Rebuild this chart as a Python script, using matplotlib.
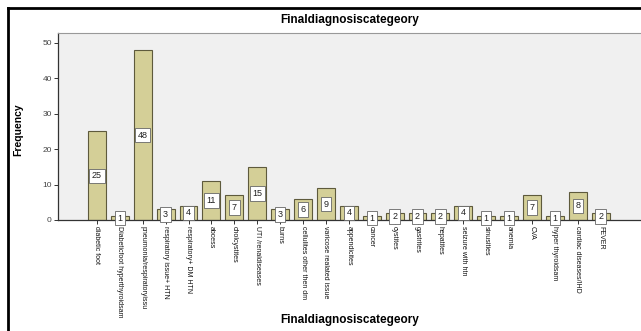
import matplotlib
matplotlib.use("Agg")
import matplotlib.pyplot as plt
from matplotlib.lines import Line2D

categories = [
    "diabetic foot", "Diabeticfoot hyperthyroidsam", "pneumonia/respiratoryissu",
    "respiratory issue+ HTN", "respiratory+ DM HTN", "abcess", "cholcystites",
    "UTI /renaldiseases", "burns", "cellulites other then dm",
    "varicose realated issue", "appendicites", "cancer", "cystites", "gastrites",
    "hepatites", "seizure with htn", "sinusities", "anemia", "CVA",
    "hyper thyroidsam", "cardiac diseases/IHD", "FEVER",
]
frequency = [25, 1, 48, 3, 4, 11, 7, 15, 3, 6, 9, 4, 1, 2, 2, 2, 4, 1, 1, 7, 1, 8, 2]
y_ticks = [0, 10, 20, 30, 40, 50]

plt.rcParams["font.family"] = ["Liberation Sans", "DejaVu Sans"]

W, H = 641, 331
fig = plt.figure(figsize=(W / 100, H / 100), dpi=100)
fig.patch.set_facecolor("white")

# plot area in pixel coordinates
left, right, top, bottom = 58, 641, 33, 220
ax = fig.add_axes([left / W, 1 - bottom / H, (right - left) / W, (bottom - top) / H])
ax.set_facecolor("#f0f0f0")

x = list(range(len(categories)))
ax.bar(x, frequency, width=0.78, color="#d4cf97", edgecolor="#5e5a3c", linewidth=0.8, zorder=2)

for xi, v in zip(x, frequency):
    ax.text(xi, v / 2, str(v), ha="center", va="center", fontsize=6.5, color="#222222", zorder=3,
            bbox=dict(boxstyle="square,pad=0.3", facecolor="white", edgecolor="#666666", linewidth=0.6))

ax.set_xlim(-1.7, 23.76)
ax.set_ylim(0, 52.8)
ax.set_yticks(y_ticks)
ax.set_yticklabels([str(t) for t in y_ticks], fontsize=6, color="#444444")
ax.set_xticks(x)
ax.set_xticklabels(categories, rotation=-90, fontsize=5, ha="center", va="top", color="#111111")
ax.tick_params(axis="both", length=3, width=0.7, color="#333333", pad=1.5)

ax.spines["top"].set_color("#999999")
ax.spines["top"].set_linewidth(0.8)
ax.spines["right"].set_visible(False)
for side in ("left", "bottom"):
    ax.spines[side].set_color("#333333")
    ax.spines[side].set_linewidth(0.9)

fig.text((left + right) / 2 / W, 1 - 20 / H, "Finaldiagnosiscategeory", ha="center", va="center",
         fontsize=8.5, fontweight="bold")
fig.text(18 / W, 1 - 130 / H, "Frequency", ha="center", va="center", rotation=90,
         fontsize=7.5, fontweight="bold")
fig.text(350 / W, 1 - 320 / H, "Finaldiagnosiscategeory", ha="center", va="center",
         fontsize=8.5, fontweight="bold")

# outer frame on the left and top edges
fig.add_artist(Line2D([8 / W, 8 / W], [0, 1 - 8 / H], color="black", linewidth=2, transform=fig.transFigure))
fig.add_artist(Line2D([8 / W, 1], [1 - 8 / H, 1 - 8 / H], color="black", linewidth=2, transform=fig.transFigure))

fig.savefig("out.png", dpi=100)
